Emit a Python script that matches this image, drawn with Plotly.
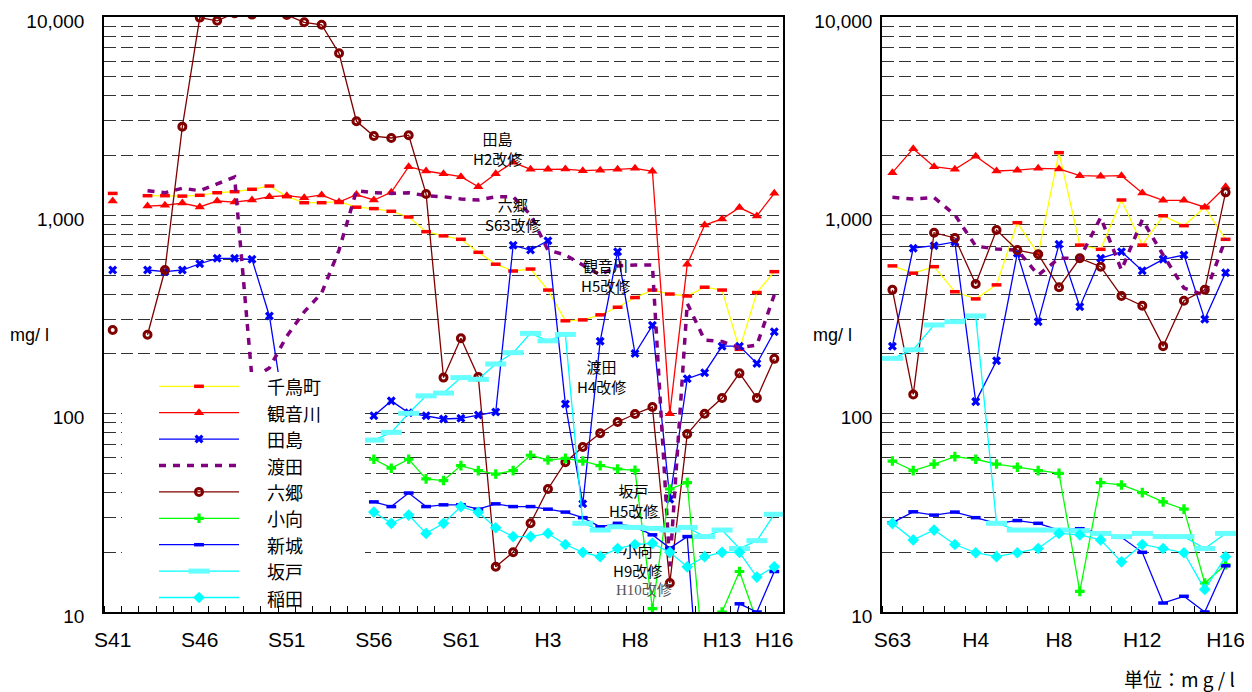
import plotly.graph_objects as go

# The page body adds an 8 px margin, so the figure is 8 px smaller and all
# positions (measured in page pixels) are shifted by that offset.
OFF = 8
W, H = 1252 - OFF, 692 - OFF


def fx(px):
    return (px - OFF) / W


def fy(py):
    return 1 - (py - OFF) / H


# ---------------- categories ----------------
years_left = list(range(1966, 2005))      # S41 .. H16
years_right = list(range(1988, 2005))     # S63 .. H16
tick_years_left = [1966, 1971, 1976, 1981, 1986, 1991, 1996, 2001, 2004]
tick_text_left = ["S41", "S46", "S51", "S56", "S61", "H3", "H8", "H13", "H16"]
tick_years_right = [1988, 1992, 1996, 2000, 2004]
tick_text_right = ["S63", "H4", "H8", "H12", "H16"]

names = ["千鳥町", "観音川", "田島", "渡田", "六郷", "小向", "新城", "坂戸", "稲田"]

N = None
# ---------------- left panel values (mg/l), S41..H16 ----------------
chidori_L = [1290, N, 1256, 1256, 1250, 1262, 1300, 1316, 1353, 1405, 1242, 1158, 1158, 1172, 1099, 1081,
             1048, 981, 827, 788, 757, 651, 567, 524, 536, 420, 294, 297, 315, 344, 385, 420, 401, 392,
             434, 420, 211, 408, 520]
kannon_L = [1181, N, 1114, 1124, 1153, 1102, 1181, 1167, 1195, 1241, 1256, 1227, 1267, 1167, 1272, 1195,
            1306, 1758, 1673, 1622, 1567, 1393, 1622, 1850, 1706, 1706, 1710, 1680, 1690, 1706, 1726, 1667,
            100, 566, 893, 959, 1094, 993, 1291]
tajima_L = [530, N, 530, 520, 530, 570, 607, 607, 600, 311, 85, N, N, N, N, 97.7,
            116, 101, 97.7, 94, 94.8, 98.4, 102, 706, 668, 745, 112, 35.1, 232, 656, 201, 279,
            37, 150, 161, 219, 219, 179, 259]
watari_L = [N, N, 1331, 1300, 1370, 1331, 1440, 1560, 150, 170, 246, 326, 406, 668, 1330, 1300,
            1290, 1300, 1256, 1241, 1210, 1195, 1241, 1241, 1005, 668, 631, 562, 500, 556, 562, 562,
            17, 360, 235, 231, 215, 222, 397]
rokugo_L = [264, N, 250, 530, 2800, 9930, 9570, 10450, 10280, 10840, 10230, 9400, 9140, 6560, 2980, 2510,
            2455, 2535, 1282, 152, 240, 153, 16.9, 20.0, 28.0, 41.7, 56.9, 67.9, 79.6, 90.8, 99.6, 108,
            14.0, 78.9, 100, 120, 160, 120, 189]
komukai_L = [N, N, N, N, N, N, N, N, N, N, N, N, N, N, N, 58.9,
             53.1, 58.9, 46.9, 46.0, 54.7, 51.6, 49.6, 51.6, 61.7, 58.4, 59.5, 57.7, 54.7, 52.6, 51.8, 10.4,
             41.7, 44.9, 5.0, 10.0, 16.0, 9.0, N]
shinjo_L = [N, N, N, N, N, N, N, N, N, N, N, N, N, N, N, 35.9,
            34.0, 39.8, 34.0, 34.7, 34.7, 33.0, 35.1, 34.0, 34.0, 33.0, 31.9, 29.9, 26.9, 28.0, 26.8, 24.5,
            21.0, 24.0, 1.5, 4.8, 11.0, 10.0, 16.0]
sakado_L = [N, N, N, N, N, N, N, N, N, N, N, N, N, N, N, 73.6,
            80.5, 100.4, 123, 127, 152, 149, 178, 203, 254, 233, 251, 28.0, 25.9, 26.9, 26.7, 26.4,
            25.9, 26.7, 24.0, 25.9, 20.9, 22.9, 31.1]
inada_L = [N, N, N, N, N, N, N, N, N, N, N, N, N, N, N, 31.9,
           28.0, 30.8, 24.9, 28.0, 34.0, 31.8, 26.6, 24.0, 24.0, 24.9, 21.9, 20.0, 19.0, 20.9, 21.9, 22.2,
           20.0, 16.9, 19.0, 20.0, 20.0, 15.0, 16.9]

# ---------------- right panel values (mg/l), S63..H16 ----------------
chidori_R = [556, 511, 551, 412, 379, 446, 918, 638, 2070, 708, 674, 1195, 708, 995, 887, 1099, 757]
kannon_R = [1641, 2168, 1759, 1706, 1985, 1673, 1690, 1726, 1713, 1585, 1575, 1585, 1297, 1191, 1191, 1099, 1393]
tajima_R = [219, 683, 703, 734, 115, 185, 644, 291, 714, 346, 607, 656, 526, 600, 631, 299, 514]
watari_R = [1233, 1208, 1230, 1005, 700, 676, 668, 500, 607, 607, 975, 530, 950, 631, 430, 396, 760]
rokugo_R = [421, 125, 817, 769, 451, 843, 668, 636, 434, 607, 551, 392, 350, 219, 371, 421, 1306]
komukai_R = [57.7, 51.6, 55.7, 60.7, 58.9, 55.7, 53.7, 51.6, 50.0, 12.7, 44.9, 43.7, 40.0, 35.9, 33.0, 14.0, 17.3]
shinjo_R = [28.2, 32.0, 30.8, 31.9, 29.9, 28.0, 28.9, 28.0, 25.9, 26.3, 24.9, 23.8, 20.0, 11.1, 12.0, 10.0, 17.1]
sakado_R = [190, 210, 280, 291, 311, 28.0, 25.9, 25.9, 25.9, 25.7, 24.9, 24.0, 24.9, 24.0, 24.0, 20.9, 24.9]
inada_R = [28.0, 23.1, 25.9, 21.9, 19.9, 19.0, 19.9, 20.9, 24.9, 24.5, 23.1, 17.9, 21.9, 20.9, 19.9, 13.0, 19.0]

left_data = [chidori_L, kannon_L, tajima_L, watari_L, rokugo_L, komukai_L, shinjo_L, sakado_L, inada_L]
right_data = [chidori_R, kannon_R, tajima_R, watari_R, rokugo_R, komukai_R, shinjo_R, sakado_R, inada_R]

# ---------------- styles ----------------
styles = [
    dict(line=dict(color="#FFFF00", width=1.3),
         marker=dict(symbol="line-ew", size=7, color="#FF0000", line=dict(color="#FF0000", width=3.5))),
    dict(line=dict(color="#FF0000", width=1.3),
         marker=dict(symbol="triangle-up", size=9, color="#FF0000")),
    dict(line=dict(color="#0000FF", width=1.3),
         marker=dict(symbol="x", size=8, color="#0000FF")),
    dict(line=dict(color="#800080", width=3.5, dash="7px,7px"), mode="lines"),
    dict(line=dict(color="#800000", width=1.3),
         marker=dict(symbol="circle-open", size=7, color="#800000", line=dict(color="#800000", width=3))),
    dict(line=dict(color="#00FF00", width=1.3),
         marker=dict(symbol="cross", size=8, color="#00FF00")),
    dict(line=dict(color="#0000FF", width=1.3),
         marker=dict(symbol="line-ew", size=7, color="#0000FF", line=dict(color="#0000FF", width=3.5))),
    dict(line=dict(color="#00FFFF", width=1.3),
         marker=dict(symbol="line-ew", size=15, color="#66FFFF", line=dict(color="#66FFFF", width=5))),
    dict(line=dict(color="#00FFFF", width=1.3),
         marker=dict(symbol="diamond", size=9, color="#00FFFF")),
]

fig = go.Figure()
for name, vals, st in zip(names, left_data, styles):
    fig.add_trace(go.Scatter(x=years_left, y=vals, name=name, mode=st.get("mode", "lines+markers"),
                             line=st["line"], marker=st.get("marker"), connectgaps=False,
                             xaxis="x", yaxis="y", showlegend=False))
for name, vals, st in zip(names, right_data, styles):
    fig.add_trace(go.Scatter(x=years_right, y=vals, name=name, mode=st.get("mode", "lines+markers"),
                             line=st["line"], marker=st.get("marker"), connectgaps=False,
                             xaxis="x2", yaxis="y2", showlegend=False))

# ---------------- legend box (own subplot in page-pixel units, drawn above the left panel) ----------------
LG_L, LG_R, LG_T, LG_B = 122, 365, 372, 605
fig.add_trace(go.Scatter(x=[LG_L, LG_R, LG_R, LG_L, LG_L], y=[LG_T, LG_T, LG_B, LG_B, LG_T],
                         mode="lines", fill="toself", fillcolor="white", line=dict(width=0, color="white"),
                         xaxis="x3", yaxis="y3", showlegend=False, hoverinfo="skip"))
leg_line_x = [159, 239]
leg_marker_x = 199
leg_text_x = 265
leg_y0, leg_dy = 386.3, 26.4
for i, (name, st) in enumerate(zip(names, styles)):
    yy = leg_y0 + leg_dy * i
    fig.add_trace(go.Scatter(x=leg_line_x, y=[yy, yy], mode="lines", line=st["line"],
                             xaxis="x3", yaxis="y3", showlegend=False, hoverinfo="skip"))
    if st.get("marker") is not None:
        fig.add_trace(go.Scatter(x=[leg_marker_x], y=[yy], mode="markers", marker=st["marker"],
                                 xaxis="x3", yaxis="y3", showlegend=False, hoverinfo="skip"))
    fig.add_annotation(text=name, x=fx(leg_text_x), y=fy(yy), xref="paper", yref="paper",
                       showarrow=False, xanchor="left", yanchor="middle",
                       font=dict(family="Noto Sans CJK JP", size=18, color="black"))

grid_minor = [20, 30, 40, 50, 60, 70, 80, 90, 200, 300, 400, 500, 600, 700, 800, 900,
              2000, 3000, 4000, 5000, 6000, 7000, 8000, 9000]
y_ticks = [10, 100, 1000, 10000]
y_ticktext = ["10", "100", "1,000", "10,000"]

grid_dash = "12px,5px"
grid_col = "#333333"


def yaxis_common(standoff, anchor):
    return dict(type="log", range=[1, 4], domain=[fy(612), fy(17)], anchor=anchor,
                tickmode="array", tickvals=y_ticks, ticktext=y_ticktext, ticks="",
                showgrid=True, gridcolor=grid_col, griddash=grid_dash, gridwidth=1,
                minor=dict(tickvals=grid_minor, showgrid=True, gridcolor=grid_col, griddash=grid_dash,
                           gridwidth=1, ticks=""),
                showline=True, linecolor="black", linewidth=1.5, mirror=True, zeroline=False,
                automargin=False, ticklabeloverflow="allow", ticklabelshift=4,
                tickfont=dict(family="Liberation Sans, Arial", size=19, color="black"),
                ticklabelstandoff=standoff)


def xaxis_common(dom, rng, tv, tt, anchor):
    return dict(domain=dom, range=rng, anchor=anchor, tickmode="array", tickvals=tv, ticktext=tt,
                ticks="", showgrid=False, zeroline=False, automargin=False, ticklabeloverflow="allow",
                showline=True, linecolor="black", linewidth=1.5, mirror=True,
                minor=dict(tickvals=[v + 0.5 for v in range(int(rng[0] - 0.5), int(rng[1] + 0.5))],
                           ticks="inside", ticklen=6, tickcolor="black", tickwidth=1, showgrid=False),
                tickfont=dict(family="Liberation Sans Narrow, Arial Narrow, Liberation Sans", size=21,
                              color="black"),
                ticklabelstandoff=8)


fig.update_layout(
    width=W, height=H,
    margin=dict(l=0, r=0, t=0, b=0, autoexpand=False),
    paper_bgcolor="white", plot_bgcolor="white",
    xaxis=xaxis_common([fx(104), fx(783)], [1965.5, 2004.5], tick_years_left, tick_text_left, "y"),
    yaxis=yaxis_common(14, "x"),
    xaxis2=xaxis_common([fx(882), fx(1236)], [1987.5, 2004.5], tick_years_right, tick_text_right, "y2"),
    yaxis2=yaxis_common(4, "x2"),
    xaxis3=dict(domain=[fx(LG_L), fx(LG_R)], range=[LG_L, LG_R], visible=False, anchor="y3",
                fixedrange=True, automargin=False),
    yaxis3=dict(domain=[fy(LG_B), fy(LG_T)], range=[LG_B, LG_T], visible=False, anchor="x3",
                fixedrange=True, automargin=False),
    showlegend=False,
)

ann_font = dict(family="Noto Sans CJK JP", size=15, color="black")
notes = [
    ("田島<br>H2改修", 497, 149),
    ("六郷<br>S63改修", 513, 214),
    ("観音川<br>H5改修", 605, 275),
    ("渡田<br>H4改修", 601, 376),
    ("坂戸<br>H5改修", 633, 500),
    ("小向<br>H9改修", 637, 560),
]
for t, px, py in notes:
    fig.add_annotation(text=t, x=fx(px), y=fy(py), xref="paper", yref="paper",
                       showarrow=False, font=ann_font, xanchor="center", yanchor="middle")
fig.add_annotation(text="H10改修", x=fx(644), y=fy(590), xref="paper", yref="paper", showarrow=False,
                   font=dict(family="Liberation Serif, Noto Sans CJK JP", size=15, color="#555555"),
                   xanchor="center", yanchor="middle")
for px in (29, 832):
    fig.add_annotation(text="mg/ l", x=fx(px), y=fy(335), xref="paper", yref="paper", showarrow=False,
                       font=dict(family="Liberation Sans, Arial", size=18, color="black"),
                       xanchor="center", yanchor="middle")
fig.add_annotation(text="単位：m g / l", x=fx(1237), y=fy(678), xref="paper", yref="paper",
                   showarrow=False, font=dict(family="Noto Sans CJK JP", size=19, color="black"),
                   xanchor="right", yanchor="middle")

fig.write_html("out.html")
